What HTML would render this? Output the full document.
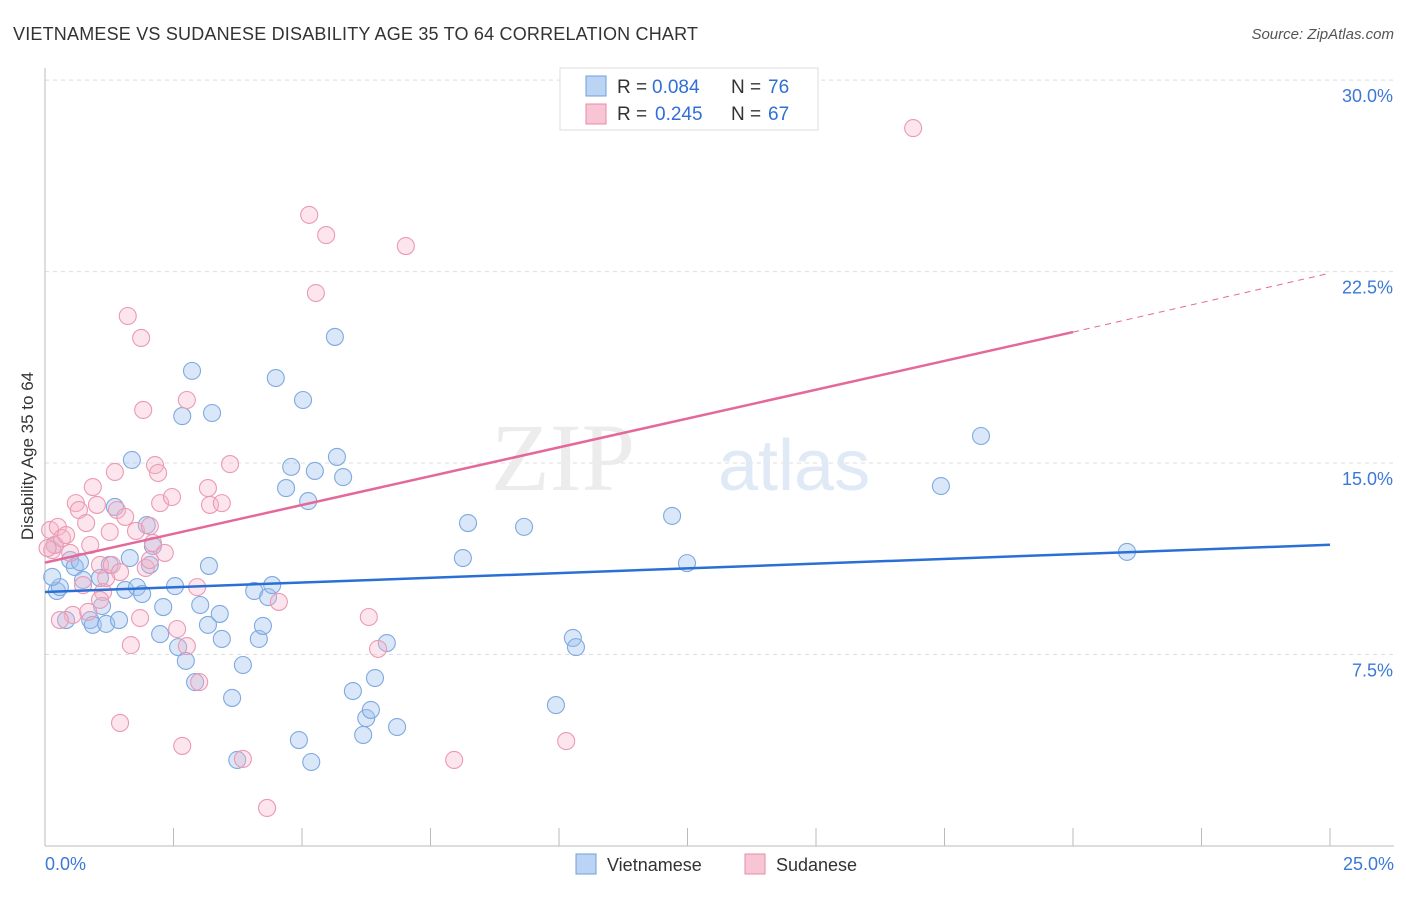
<!DOCTYPE html>
<html><head><meta charset="utf-8"><style>
body{margin:0;background:#fff;font-family:"Liberation Sans",sans-serif}
</style></head><body>
<svg id="c" width="1406" height="892" xmlns="http://www.w3.org/2000/svg">
<text x="13" y="40" font-size="18" fill="#333" textLength="685">VIETNAMESE VS SUDANESE DISABILITY AGE 35 TO 64 CORRELATION CHART</text>
<text x="1394" y="39" font-size="15" fill="#555" font-style="italic" text-anchor="end">Source: ZipAtlas.com</text>
<text x="33" y="456" font-size="17" fill="#333" text-anchor="middle" transform="rotate(-90 33 456)">Disability Age 35 to 64</text>
<g id="grid"></g>
<text x="635" y="490" font-size="96" fill="#ececec" font-family="Liberation Serif,serif" text-anchor="end">ZIP</text>
<text x="718" y="490" font-size="72" fill="#e0e9f6">atlas</text>
<g id="pts"></g>
<g id="lines"></g>
<g>
<rect x="560" y="68" width="258" height="62" fill="#fff" stroke="#ddd"/>
<rect x="586" y="76" width="20" height="20" fill="#bcd4f4" stroke="#6f9fdc"/>
<rect x="586" y="104" width="20" height="20" fill="#f8c5d4" stroke="#e88aa8"/>
<text x="617" y="93" font-size="19" fill="#333">R =</text>
<text x="652" y="93" font-size="19" fill="#2f6fd6">0.084</text>
<text x="731" y="93" font-size="19" fill="#333">N =</text>
<text x="768" y="93" font-size="19" fill="#2f6fd6">76</text>
<text x="617" y="120" font-size="19" fill="#333">R =</text>
<text x="655" y="120" font-size="19" fill="#2f6fd6">0.245</text>
<text x="731" y="120" font-size="19" fill="#333">N =</text>
<text x="768" y="120" font-size="19" fill="#2f6fd6">67</text>
</g>
<g>
<rect x="576" y="854" width="20" height="20" fill="#bcd4f4" stroke="#6f9fdc"/>
<text x="607" y="871" font-size="18" fill="#333">Vietnamese</text>
<rect x="745" y="854" width="20" height="20" fill="#f8c5d4" stroke="#e88aa8"/>
<text x="776" y="871" font-size="18" fill="#333">Sudanese</text>
</g>
</svg>
<script>
const xTicks=[0,2.5,5,7.5,10,12.5,15,17.5,20,22.5,25];
const yTicks=[7.5,15,22.5,30];
const yTickLabels=["7.5%","15.0%","22.5%","30.0%"];
const blueX=[0.23,0.29,0.14,0.41,0.49,0.58,0.68,0.74,0.88,0.93,1.07,1.11,1.19,1.26,1.36,1.44,1.56,1.65,1.69,1.79,1.89,1.98,2.04,2.10,2.24,2.30,2.53,2.59,2.67,2.74,2.86,2.92,3.02,3.17,3.19,3.25,3.40,3.44,3.64,3.74,3.85,4.07,4.16,4.24,4.34,4.42,4.49,4.69,4.79,4.94,5.02,5.12,5.18,5.25,5.64,5.68,5.80,5.99,6.19,6.25,6.34,6.42,6.65,6.85,8.13,8.23,9.32,9.94,10.27,10.33,12.20,12.49,17.43,18.21,21.05,0.19];
const blueY=[9.99,10.14,10.54,8.85,11.20,10.93,11.12,10.42,8.85,8.66,10.50,9.40,8.70,11.01,13.28,8.85,10.03,11.28,15.12,10.14,9.87,12.57,11.01,11.75,8.30,9.36,10.18,7.79,16.84,7.25,18.61,6.42,9.44,8.66,10.97,16.96,9.09,8.11,5.80,3.37,7.09,9.99,8.11,8.62,9.75,10.22,18.33,14.02,14.85,4.15,17.47,13.51,3.29,14.69,19.94,15.24,14.45,6.07,4.35,5.01,5.33,6.58,7.95,4.66,11.28,12.65,12.50,5.52,8.15,7.79,12.93,11.08,14.10,16.06,11.52,11.79];
const pinkX=[0.10,0.14,0.19,0.25,0.33,0.41,0.49,0.54,0.60,0.66,0.74,0.80,0.84,0.88,0.93,1.01,1.07,1.13,1.19,1.26,1.30,1.36,1.40,1.46,1.56,1.61,1.67,1.77,1.85,1.87,1.91,1.96,2.04,2.10,2.14,2.20,2.24,2.33,2.47,2.57,2.67,2.76,2.76,2.96,3.00,3.17,3.21,3.44,3.60,3.85,4.32,4.55,5.14,5.27,5.47,6.30,6.48,7.02,7.96,10.14,16.89,1.46,0.29,1.07,2.04,0.05];
const pinkY=[12.38,11.59,11.79,12.50,12.06,12.18,11.48,9.05,13.43,13.16,10.22,12.65,9.17,11.79,14.06,13.36,11.01,9.95,10.50,12.30,11.01,14.65,13.16,10.73,12.89,20.76,7.87,12.34,8.93,19.90,17.08,10.89,12.53,11.87,14.92,14.61,13.43,11.48,13.67,8.50,3.92,7.83,17.47,10.14,6.42,14.02,13.36,13.43,14.96,3.41,1.49,9.56,24.72,21.66,23.93,8.97,7.72,23.50,3.37,4.11,28.12,4.82,8.85,9.64,11.20,11.67];
const blueLine=[9.95,11.8];
const pinkLine=[11.1,20.13,22.44];
const X0=45,X1=1330,Y0=846,YS=25.53;
const sx=v=>X0+(X1-X0)*v/25;
const sy=v=>Y0-v*YS;
const NS="http://www.w3.org/2000/svg";
function mk(t,a,p){const e=document.createElementNS(NS,t);for(const k in a)e.setAttribute(k,a[k]);p.appendChild(e);return e;}
const grid=document.getElementById('grid');
yTicks.forEach((t,i)=>{
 const l=mk('line',{x1:X0,x2:1394,y1:sy(t),y2:sy(t),stroke:'#ddd','stroke-dasharray':'4,4'},grid);
 
 
 const tx=mk('text',{x:1393,y:sy(t)+22,'font-size':18,fill:'#3b78d8','text-anchor':'end'},grid);
 tx.textContent=yTickLabels[i];
 
 
});
const ax=mk('line',{x1:X0,x2:X0,y1:68,y2:Y0,stroke:'#bbb'},grid);


const bx=mk('line',{x1:X0,x2:1394,y1:Y0,y2:Y0,stroke:'#bbb'},grid);


xTicks.forEach(t=>{
 const l=mk('line',{x1:sx(t),x2:sx(t),y1:828,y2:Y0,stroke:'#bbb'},grid);
 
 
});
const xl=mk('text',{x:45,y:870,'font-size':18,fill:'#3b78d8'},grid);xl.textContent='0.0%';


const xr=mk('text',{x:1394,y:870,'font-size':18,fill:'#3b78d8','text-anchor':'end'},grid);xr.textContent='25.0%';


const pts=document.getElementById('pts');
blueX.forEach((x,i)=>{
 const c=mk('circle',{cx:sx(x),cy:sy(blueY[i]),r:8.5,fill:'rgba(160,195,240,0.4)',stroke:'#7fa9e0','stroke-width':1.1},pts);
 
 
});
pinkX.forEach((x,i)=>{
 const c=mk('circle',{cx:sx(x),cy:sy(pinkY[i]),r:8.5,fill:'rgba(245,180,200,0.35)',stroke:'#eb9ab4','stroke-width':1.1},pts);
 
 
});
const lines=document.getElementById('lines');
const b=mk('line',{x1:sx(0),y1:sy(blueLine[0]),x2:sx(25),y2:sy(blueLine[1]),stroke:'#2a6fd6','stroke-width':2.5},lines);


const p=mk('line',{x1:sx(0),y1:sy(pinkLine[0]),x2:sx(20),y2:sy(pinkLine[1]),stroke:'#e4689a','stroke-width':2.5},lines);


const pd=mk('line',{x1:sx(20),y1:sy(pinkLine[1]),x2:sx(25),y2:sy(pinkLine[2]),stroke:'#e4689a','stroke-width':1,'stroke-dasharray':'6,5'},lines);


</script>
</body></html>
